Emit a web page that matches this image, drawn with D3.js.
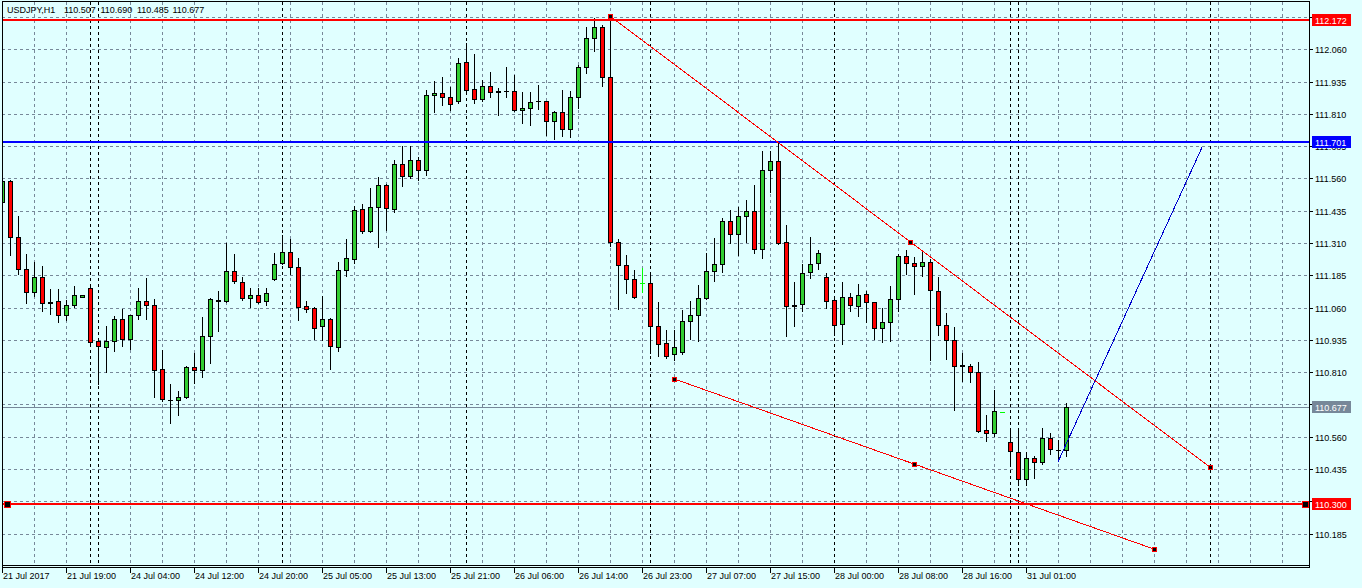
<!DOCTYPE html>
<html><head><meta charset="utf-8">
<script src="https://cdn.jsdelivr.net/npm/d3@7"></script>
<style>
html,body{margin:0;padding:0;background:#E0FFFF;}
svg{display:block;}
text{font-family:"Liberation Sans",Arial,sans-serif;font-size:9px;fill:#000;}
</style></head><body>
<svg id="c" width="1362" height="588"></svg>
<script>
// ---------------- DATA ----------------
const symbol = "USDJPY,H1";
const open = [
111.469,111.550,111.333,111.210,111.120,111.179,111.080,111.086,111.031,111.070,
111.101,111.136,110.931,110.908,110.931,111.016,110.939,111.031,111.086,111.070,
110.822,110.704,110.702,110.714,110.830,110.819,110.950,111.088,111.086,111.202,
111.159,111.097,111.109,111.086,111.171,111.233,111.275,111.217,111.066,111.059,
110.989,111.016,110.908,111.206,111.248,111.442,111.357,111.450,111.535,111.442,
111.616,111.570,111.632,111.593,111.882,111.890,111.875,111.860,112.011,111.906,
111.868,111.918,111.897,111.899,111.899,111.825,111.833,111.860,111.860,111.782,
111.817,111.751,111.875,111.991,112.104,112.146,111.953,111.314,111.225,111.171,
111.154,111.155,110.989,110.923,110.880,110.888,111.008,111.031,111.097,111.202,
111.229,111.395,111.345,111.415,111.434,111.287,111.593,111.628,111.314,111.070,
111.074,111.198,111.233,111.179,111.090,110.997,111.101,111.066,111.113,111.082,
110.981,111.004,111.093,111.260,111.233,111.221,111.237,111.124,110.993,110.935,
110.836,110.834,110.811,110.586,110.574,110.657,110.540,110.501,110.396,110.478,
110.462,110.555,110.509,110.507];
const high = [
111.558,111.554,111.415,111.268,111.237,111.221,111.132,111.132,111.090,111.144,
111.110,111.140,110.935,110.989,111.027,111.055,111.033,111.136,111.175,111.093,
110.896,110.764,110.737,110.834,110.884,111.024,111.097,111.124,111.310,111.268,
111.179,111.136,111.136,111.136,111.271,111.341,111.326,111.252,111.086,111.062,
111.105,111.020,111.237,111.326,111.453,111.461,111.523,111.566,111.539,111.632,
111.686,111.686,111.643,111.903,111.937,111.953,111.914,112.026,112.084,112.042,
111.941,111.972,111.910,111.991,111.961,111.895,111.895,111.922,111.861,111.821,
111.903,111.899,111.999,112.146,112.181,112.154,112.189,111.326,111.264,111.206,
111.213,111.198,111.082,110.973,110.973,111.051,111.086,111.148,111.271,111.330,
111.407,111.438,111.450,111.477,111.535,111.666,111.666,111.697,111.380,111.159,
111.229,111.333,111.283,111.194,111.092,111.159,111.117,111.151,111.124,111.083,
111.059,111.144,111.268,111.283,111.256,111.283,111.248,111.179,111.039,110.985,
110.884,110.842,110.849,110.644,110.741,110.657,110.582,110.582,110.501,110.486,
110.594,110.575,110.547,110.690];
const low = [
111.368,111.264,111.190,111.078,111.105,111.047,111.035,111.004,111.012,111.062,
111.100,110.919,110.764,110.811,110.892,110.911,110.900,111.016,111.016,110.714,
110.698,110.613,110.644,110.710,110.768,110.791,110.846,110.969,111.082,111.155,
111.090,111.062,111.078,111.070,111.167,111.229,111.190,111.012,111.043,110.939,
110.935,110.822,110.892,111.183,111.233,111.349,111.353,111.295,111.361,111.430,
111.531,111.562,111.554,111.574,111.817,111.844,111.825,111.852,111.887,111.852,
111.860,111.875,111.806,111.875,111.823,111.775,111.767,111.829,111.728,111.713,
111.724,111.720,111.833,111.968,112.053,111.918,111.298,111.055,111.116,111.097,
111.120,110.884,110.872,110.865,110.857,110.880,110.939,110.931,111.093,111.163,
111.198,111.310,111.264,111.314,111.271,111.252,111.508,111.308,110.950,110.989,
111.047,111.175,111.210,111.059,110.954,110.919,111.047,111.027,111.004,110.939,
110.927,110.931,111.047,111.190,111.113,111.183,110.857,110.954,110.861,110.664,
110.776,110.772,110.578,110.543,110.563,110.657,110.458,110.373,110.373,110.400,
110.455,110.493,110.470,110.485];
const close = [
111.550,111.333,111.210,111.120,111.179,111.078,111.077,111.031,111.070,111.109,
111.109,110.927,110.911,110.931,111.016,110.939,111.031,111.086,111.070,110.819,
110.706,110.702,110.714,110.830,110.819,110.950,111.093,111.085,111.202,111.163,
111.097,111.109,111.082,111.117,111.229,111.275,111.217,111.062,111.055,110.981,
111.016,110.911,111.206,111.252,111.438,111.357,111.450,111.535,111.446,111.616,
111.570,111.632,111.593,111.883,111.890,111.877,111.848,112.007,111.903,111.868,
111.918,111.895,111.895,111.897,111.825,111.833,111.856,111.858,111.782,111.817,
111.751,111.875,111.991,112.104,112.146,111.953,111.314,111.225,111.171,111.101,
111.154,110.989,110.919,110.872,110.908,111.008,111.031,111.097,111.202,111.229,
111.395,111.345,111.415,111.434,111.287,111.593,111.628,111.310,111.066,111.068,
111.194,111.229,111.271,111.086,110.993,111.101,111.070,111.109,111.082,110.981,
111.004,111.093,111.260,111.233,111.221,111.237,111.128,110.993,110.935,110.834,
110.834,110.811,110.582,110.574,110.660,110.657,110.505,110.396,110.478,110.462,
110.555,110.513,110.507,110.677];
const timeLabels = ["21 Jul 2017","21 Jul 19:00","24 Jul 04:00","24 Jul 12:00","24 Jul 20:00",
"25 Jul 05:00","25 Jul 13:00","25 Jul 21:00","26 Jul 06:00","26 Jul 14:00","26 Jul 23:00",
"27 Jul 07:00","27 Jul 15:00","28 Jul 00:00","28 Jul 08:00","28 Jul 16:00","31 Jul 01:00"];
const timeLabelStep = 8;          // bars between time labels
const separatorBars = [11,12,35,58,81,104,126,127,151];
const priceTicks = [110.185,110.310,110.435,110.560,110.685,110.810,110.935,111.060,111.185,
111.310,111.435,111.560,111.685,111.810,111.935,112.060,112.185];
const levelPrices = [112.172, 111.701, 110.300];
const trendStartBar = [76, 84];
const trendStartPrice = [112.189, 110.784];
const trendEndBar = [151, 144];
const trendEndPrice = [110.442, 110.125];
const blueStartBar = 132, blueStartPrice = 110.463;
const blueEndBar = 150, blueEndPrice = 111.680;

// ---------------- DRAW ----------------
const W = 1362, H = 588;
const L = 2, R = 1309, T = 2, B = 565;
const barPx = 8;
const svg = d3.select("#c");
const x = d3.scaleLinear().domain([0, (R - L) / barPx]).range([L, R]);
const y = d3.scaleLinear().domain([110.185, 112.060]).range([533.6, 49.3]);
const GRID = "#778899", BG = "#E0FFFF", UP = "#32CD32", DN = "#FF0000";

svg.append("rect").attr("width", W).attr("height", H).attr("fill", BG);
svg.append("defs").append("clipPath").attr("id", "clip")
  .append("rect").attr("x", L + 1).attr("y", T + 1).attr("width", R - L - 1).attr("height", B - T - 1);

const crisp = svg.append("g").attr("shape-rendering", "crispEdges");

// grid
const grid = crisp.append("g");
priceTicks.forEach(p => {
  const yy = Math.round(y(p)) + 0.5;
  grid.append("line").attr("x1", L).attr("x2", R).attr("y1", yy).attr("y2", yy)
    .attr("stroke", GRID).attr("stroke-dasharray", "3,3");
});
for (let i = 4; x(i) < R; i += 4) {
  const xx = Math.round(x(i)) + 0.5;
  grid.append("line").attr("x1", xx).attr("x2", xx).attr("y1", T).attr("y2", B)
    .attr("stroke", GRID).attr("stroke-dasharray", "3,3");
}
separatorBars.forEach(b => {
  const xx = Math.round(x(b)) + 0.5;
  grid.append("line").attr("x1", xx).attr("x2", xx).attr("y1", T).attr("y2", B)
    .attr("stroke", "#000").attr("stroke-dasharray", "3,3");
});

// current price line
const last = close.length - 1;
const yCur = Math.round(y(close[last])) + 0.5;
crisp.append("line").attr("x1", L).attr("x2", R).attr("y1", yCur).attr("y2", yCur).attr("stroke", GRID);

// candles
const cg = crisp.append("g").attr("clip-path", "url(#clip)");
close.forEach((c, i) => {
  const o = open[i], h = high[i], l = low[i];
  const xc = Math.round(x(i));
  const yh = Math.round(y(h)), yl = Math.round(y(l));
  const doji = o === c;
  const wc = doji ? "#00FF00" : "#000";
  if (yl > yh) cg.append("line").attr("x1", xc + 0.5).attr("x2", xc + 0.5)
    .attr("y1", yh).attr("y2", yl + 1).attr("stroke", wc);
  const yt = Math.round(y(Math.max(o, c))), yb = Math.round(y(Math.min(o, c)));
  if (doji || yb - yt < 1) {
    cg.append("line").attr("x1", xc - 2).attr("x2", xc + 3).attr("y1", yt + 0.5).attr("y2", yt + 0.5).attr("stroke", wc);
  } else {
    cg.append("rect").attr("x", xc - 1.5).attr("y", yt + 0.5).attr("width", 4).attr("height", yb - yt)
      .attr("fill", c > o ? UP : DN).attr("stroke", "#000");
  }
});

// horizontal levels
const levelColors = ["#FF0000", "#0000FF", "#FF0000"];
levelPrices.forEach((p, k) => {
  const yy = Math.round(y(p));
  crisp.append("line").attr("x1", L).attr("x2", R).attr("y1", yy).attr("y2", yy)
    .attr("stroke", levelColors[k]).attr("stroke-width", 2);
});

// trend lines
const og = crisp.append("g").attr("clip-path", "url(#clip)");
function marker(cx, cy, s) {
  og.append("rect").attr("x", Math.round(cx) - s / 2 + 0.5).attr("y", Math.round(cy) - s / 2 + 0.5)
    .attr("width", s).attr("height", s).attr("fill", "#000").attr("stroke", "#FF0000");
}
trendStartBar.forEach((sb, k) => {
  const x1 = x(sb), y1 = y(trendStartPrice[k]), x2 = x(trendEndBar[k]), y2 = y(trendEndPrice[k]);
  og.append("line").attr("x1", x1).attr("y1", y1).attr("x2", x2).attr("y2", y2).attr("stroke", "#FF0000");
  marker(x1, y1, 4); marker((x1 + x2) / 2, (y1 + y2) / 2, 4); marker(x2, y2, 4);
});
og.append("line").attr("x1", x(blueStartBar)).attr("y1", y(blueStartPrice))
  .attr("x2", x(blueEndBar)).attr("y2", y(blueEndPrice)).attr("stroke", "#0000CD");
// selection handles for the 110.300 level
marker(L + 4.5, y(levelPrices[2]), 6);
marker(R - 4.5, y(levelPrices[2]), 6);

// frame
const fr = crisp.append("g").attr("stroke", "#000").attr("fill", "none");
fr.append("line").attr("x1", L + 0.5).attr("x2", L + 0.5).attr("y1", 1).attr("y2", B + 3);
fr.append("line").attr("x1", R + 0.5).attr("x2", R + 0.5).attr("y1", 1).attr("y2", B + 3);
fr.append("line").attr("x1", L).attr("x2", R + 1).attr("y1", 1.5).attr("y2", 1.5);
fr.append("line").attr("x1", L).attr("x2", R + 1).attr("y1", B + 0.5).attr("y2", B + 0.5);
fr.append("line").attr("x1", L).attr("x2", R + 1).attr("y1", B + 2.5).attr("y2", B + 2.5);

// price axis
const ax = svg.append("g");
priceTicks.forEach(p => {
  const yy = Math.round(y(p)) + 0.5;
  ax.append("line").attr("x1", R).attr("x2", R + 4).attr("y1", yy).attr("y2", yy)
    .attr("stroke", "#000").attr("shape-rendering", "crispEdges");
  ax.append("text").attr("x", R + 6).attr("y", yy + 3.5).text(p.toFixed(3));
});
function priceBox(p, color) {
  const yy = Math.round(y(p));
  ax.append("rect").attr("x", R + 3).attr("y", yy - 6).attr("width", 39).attr("height", 12)
    .attr("fill", color).attr("shape-rendering", "crispEdges");
  ax.append("text").attr("x", R + 6).attr("y", yy + 3.5).attr("fill", "#fff").style("fill", "#fff").text(p.toFixed(3));
}
priceBox(levelPrices[0], levelColors[0]);
priceBox(levelPrices[1], levelColors[1]);
priceBox(levelPrices[2], levelColors[2]);
priceBox(close[last], GRID);

// time axis
timeLabels.forEach((t, k) => {
  const xx = Math.round(x(k * timeLabelStep)) + 0.5;
  ax.append("line").attr("x1", xx).attr("x2", xx).attr("y1", B + 2).attr("y2", B + 8)
    .attr("stroke", "#000").attr("shape-rendering", "crispEdges");
  ax.append("text").attr("x", xx + 0.5).attr("y", B + 14).text(t);
});

// title
const fmt = d3.format(".3f");
const titleParts = [symbol, fmt(open[last]), fmt(high[last]), fmt(low[last]), fmt(close[last])];
const titleX = [7, 64, 100.5, 137, 172.5];
titleParts.forEach((s, k) => svg.append("text").attr("x", titleX[k]).attr("y", 13).text(s));
</script>
</body></html>
